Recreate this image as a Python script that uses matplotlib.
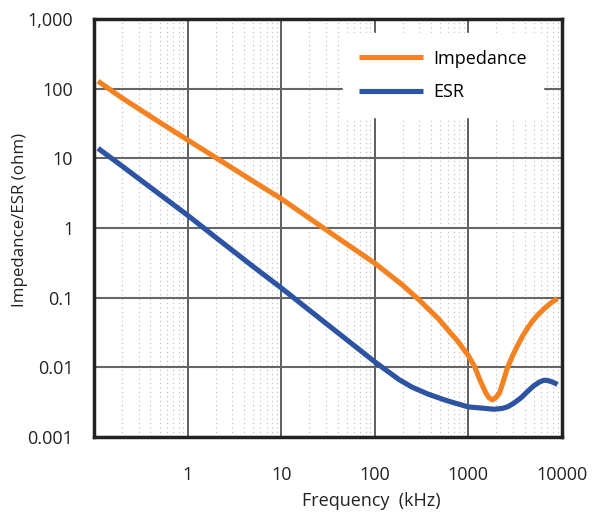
import matplotlib.pyplot as plt
from matplotlib.ticker import FixedLocator, NullFormatter, LogLocator

# impedance curve (kHz, ohm)
imp_freq = [0.11, 0.2, 0.5, 1, 2, 5, 10, 20, 50, 100, 200, 300, 480, 658, 780, 1000,
            1166, 1350, 1549, 1660, 1807, 1968, 2153, 2333, 2606, 2950, 3327, 3800, 4246,
            4800, 5420, 6430, 7600, 9000]
imp_vals = [128, 73, 33, 18.3, 10.2, 4.7, 2.63, 1.38, 0.59, 0.313, 0.15, 0.092, 0.0497, 0.0303, 0.0233, 0.0148,
            0.0103, 0.0063, 0.00425, 0.00367, 0.00341, 0.00367, 0.00425, 0.0059, 0.0096, 0.0143, 0.020, 0.0279, 0.0356,
            0.045, 0.0547, 0.0689, 0.0836, 0.097]

# ESR curve
esr_freq = [0.11, 0.2, 0.5, 1, 2, 5, 10, 20, 50, 100, 131, 181, 250, 376, 600, 1000,
            1400, 1890, 2300, 2620, 3000, 3620, 4300, 4990, 5700, 6390, 7000, 7800, 9000]
esr_vals = [13.9, 7.7, 3.05, 1.52, 0.73, 0.28, 0.138, 0.066, 0.025, 0.012, 0.0092, 0.0067, 0.0052, 0.0041, 0.0033, 0.0027,
            0.0026, 0.0025, 0.00257, 0.0027, 0.003, 0.0036, 0.0045, 0.0054, 0.0061, 0.0065, 0.0065, 0.0062, 0.0057]

x_ticks = [1, 10, 100, 1000, 10000]
x_labels = ["1", "10", "100", "1000", "10000"]
y_ticks = [0.001, 0.01, 0.1, 1, 10, 100, 1000]
y_labels = ["0.001", "0.01", "0.1", "1", "10", "100", "1,000"]

plt.rcParams['font.family'] = ['Open Sans', 'DejaVu Sans']

fig = plt.figure(figsize=(5.92, 5.12), dpi=100)
ax = fig.add_axes([0.159, 0.1465, 0.79, 0.8165])

ax.set_xscale("log")
ax.set_yscale("log")
ax.set_xlim(0.1, 10000)
ax.set_ylim(0.001, 1000)

ax.plot(imp_freq, imp_vals, color="#F58220", linewidth=3.7, label="Impedance",
        solid_capstyle="butt", solid_joinstyle="round")
ax.plot(esr_freq, esr_vals, color="#2D53A3", linewidth=3.7, label="ESR",
        solid_capstyle="butt", solid_joinstyle="round")

ax.xaxis.set_major_locator(FixedLocator(x_ticks))
ax.set_xticklabels(x_labels)
ax.yaxis.set_major_locator(FixedLocator(y_ticks))
ax.set_yticklabels(y_labels)
ax.xaxis.set_minor_locator(LogLocator(base=10, subs=range(2, 10), numticks=20))
ax.xaxis.set_minor_formatter(NullFormatter())
ax.yaxis.set_minor_locator(FixedLocator([]))
ax.tick_params(which="both", length=0, labelsize=13, colors="#222222")
ax.tick_params(axis="x", pad=21)
ax.tick_params(axis="y", pad=15)

ax.grid(which="major", axis="x", color="#333333", linewidth=1.1)
ax.grid(which="major", axis="y", color="#666666", linewidth=1.5)
ax.grid(which="minor", axis="x", color="#bbbbbb", linewidth=0.8, linestyle=(0, (1, 3)))
ax.set_axisbelow(True)

for s in ax.spines.values():
    s.set_linewidth(2.5)
    s.set_color("#222222")

ax.set_xlabel("Frequency  (kHz)", fontsize=13, color="#222222")
ax.xaxis.set_label_coords(0.592, -0.153)
ax.xaxis.label.set_va("center")
ax.set_ylabel("Impedance/ESR (ohm)", fontsize=12.2, color="#222222")
ax.yaxis.set_label_coords(-0.158, 0.52)
ax.yaxis.label.set_va("center")

leg = ax.legend(loc="center left", bbox_to_anchor=(0.513, 0.865), fontsize=13,
                frameon=True, fancybox=False, handlelength=3.5, handletextpad=0.6,
                labelspacing=0.85, borderpad=0.9)
leg.get_frame().set_edgecolor("white")
leg.get_frame().set_facecolor("white")
leg.get_frame().set_alpha(1)

fig.savefig("out.png", dpi=100)
